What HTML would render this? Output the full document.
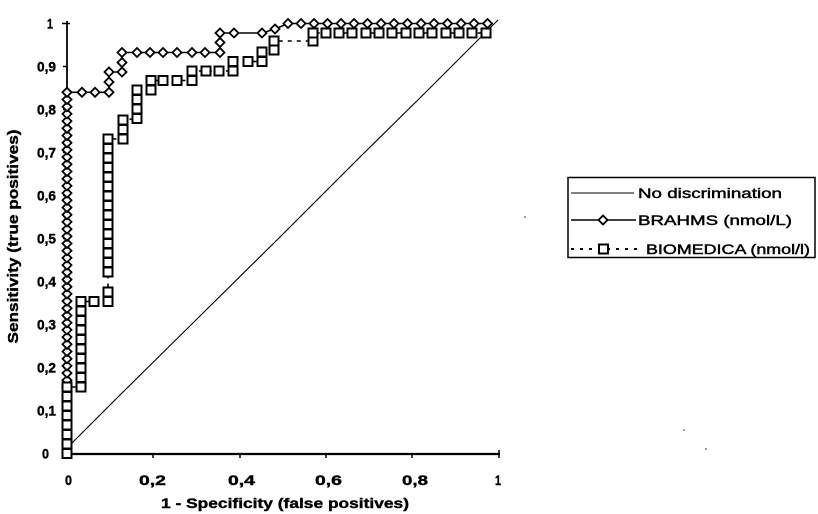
<!DOCTYPE html>
<html><head><meta charset="utf-8"><style>
html,body{margin:0;padding:0;background:#fff;}
svg{display:block;}
text{font-family:"Liberation Sans",Arial,sans-serif;fill:#000;}
</style></head><body>
<svg width="818" height="514" viewBox="0 0 818 514" xmlns="http://www.w3.org/2000/svg">
<defs>
<marker id="dm" markerUnits="userSpaceOnUse" markerWidth="16" markerHeight="16" refX="8" refY="8" overflow="visible">
<path d="M8,3.5 L12.5,8 L8,12.5 L3.5,8 Z" fill="#fff" stroke="#000" stroke-width="1.8" stroke-dasharray="none"/>
</marker>
<marker id="sq" markerUnits="userSpaceOnUse" markerWidth="16" markerHeight="16" refX="8" refY="8" overflow="visible">
<rect x="3.5" y="3.5" width="9" height="9" fill="#fff" stroke="#000" stroke-width="2" stroke-dasharray="none"/>
</marker>
</defs>
<rect width="818" height="514" fill="#fff"/>

<!-- axes -->
<line x1="67" y1="21" x2="67" y2="455" stroke="#000" stroke-width="1.8"/>
<line x1="66" y1="454" x2="500" y2="454" stroke="#000" stroke-width="2.2"/>
<g stroke="#000" stroke-width="1.5">
<line x1="62" y1="23.5" x2="70" y2="23.5"/>
<line x1="63" y1="66.5" x2="67" y2="66.5"/>
<line x1="63" y1="109.5" x2="67" y2="109.5"/>
<line x1="63" y1="152.5" x2="67" y2="152.5"/>
<line x1="63" y1="195.5" x2="67" y2="195.5"/>
<line x1="63" y1="238.5" x2="67" y2="238.5"/>
<line x1="63" y1="281.5" x2="67" y2="281.5"/>
<line x1="63" y1="324.5" x2="67" y2="324.5"/>
<line x1="63" y1="367.5" x2="67" y2="367.5"/>
<line x1="63" y1="410.5" x2="67" y2="410.5"/>
<line x1="153" y1="454" x2="153" y2="458"/>
<line x1="240" y1="454" x2="240" y2="458"/>
<line x1="326" y1="454" x2="326" y2="458"/>
<line x1="412" y1="454" x2="412" y2="458"/>
<line x1="499" y1="450" x2="499" y2="458"/>
</g>

<!-- y tick labels -->
<g font-size="13.5" font-weight="bold" stroke="#000" stroke-width="0.4">
<text x="47" y="28.5" textLength="6" lengthAdjust="spacingAndGlyphs">1</text>
<text x="37" y="71.5" textLength="19" lengthAdjust="spacingAndGlyphs">0,9</text>
<text x="37" y="114.5" textLength="19" lengthAdjust="spacingAndGlyphs">0,8</text>
<text x="37" y="157.5" textLength="19" lengthAdjust="spacingAndGlyphs">0,7</text>
<text x="37" y="200.5" textLength="19" lengthAdjust="spacingAndGlyphs">0,6</text>
<text x="37" y="243.5" textLength="19" lengthAdjust="spacingAndGlyphs">0,5</text>
<text x="37" y="286.5" textLength="19" lengthAdjust="spacingAndGlyphs">0,4</text>
<text x="37" y="329.5" textLength="19" lengthAdjust="spacingAndGlyphs">0,3</text>
<text x="37" y="372.5" textLength="19" lengthAdjust="spacingAndGlyphs">0,2</text>
<text x="37" y="415.5" textLength="19" lengthAdjust="spacingAndGlyphs">0,1</text>
<text x="42" y="458.5" textLength="7" lengthAdjust="spacingAndGlyphs">0</text>
</g>

<!-- x tick labels -->
<g font-size="13.5" font-weight="bold" stroke="#000" stroke-width="0.4">
<text x="65" y="485" textLength="7" lengthAdjust="spacingAndGlyphs">0</text>
<text x="139" y="485" textLength="27" lengthAdjust="spacingAndGlyphs">0,2</text>
<text x="228" y="485" textLength="27" lengthAdjust="spacingAndGlyphs">0,4</text>
<text x="315" y="485" textLength="27" lengthAdjust="spacingAndGlyphs">0,6</text>
<text x="402" y="485" textLength="26" lengthAdjust="spacingAndGlyphs">0,8</text>
<text x="495" y="485" textLength="6" lengthAdjust="spacingAndGlyphs">1</text>
</g>

<!-- axis titles -->
<text x="161" y="508" font-size="14" font-weight="bold" stroke="#000" stroke-width="0.4" textLength="248" lengthAdjust="spacingAndGlyphs">1 - Specificity (false positives)</text>
<text transform="translate(18,236.5) rotate(-90)" x="0" y="0" text-anchor="middle" font-size="15" font-weight="bold" stroke="#000" stroke-width="0.4" textLength="214" lengthAdjust="spacingAndGlyphs">Sensitivity (true positives)</text>

<!-- no discrimination -->
<polyline points="68,447 120,395 200,316 280,237 360,157 430,88 498,20" fill="none" stroke="#000" stroke-width="1.1"/>

<!-- BRAHMS -->
<polyline fill="none" stroke="#000" stroke-width="1.6" marker-start="url(#dm)" marker-mid="url(#dm)" marker-end="url(#dm)"
points="67,380.3 67,373.1 67,365.9 67,358.7 67,351.5 67,344.3 67,337.1 67,329.9 67,322.7 67,315.5 67,308.3 67,301.1 67,293.9 67,286.7 67,279.5 67,272.3 67,265.1 67,257.9 67,250.7 67,243.5 67,236.3 67,229.1 67,221.9 67,214.7 67,207.5 67,200.3 67,193.1 67,185.9 67,178.7 67,171.5 67,164.3 67,157.1 67,149.9 67,142.7 67,135.5 67,128.3 67,121.1 67,113.9 67,106.7 67,99.5 67,92.3 82,92.3 95,92.3 109,92.3 109,82 109,72 122,72 122,62.5 122,52.5 137,52.5 150,52.5 163,52.5 177,52.5 192,52.5 205,52.5 220,52.5 220,42.5 220,33 234,33 262,33 275,29 288,23.5 301,23.5 314,23.5 327.5,23.5 341,23.5 354,23.5 367.5,23.5 381,23.5 394,23.5 407.5,23.5 421,23.5 434,23.5 447.5,23.5 461,23.5 474,23.5 487.5,23.5"/>

<!-- BIOMEDICA -->
<polyline fill="none" stroke="#000" stroke-width="1.6" stroke-dasharray="4,5" marker-start="url(#sq)" marker-mid="url(#sq)" marker-end="url(#sq)"
points="67,453.5 67,444 67,434.5 67,425 67,415.5 67,406 67,396.5 67,387 81,387 81,377.5 81,368 81,358.5 81,349 81,339.5 81,330 81,320.5 81,311 81,301.5 94,301.5 108,301.5 108,292 108,272 108,262.5 108,253 108,243.5 108,234 108,224.5 108,215 108,205.5 108,196 108,186.5 108,177 108,167.5 108,158 108,148.5 108,139 123,139 123,129.5 123,120 137,118.5 137,109 137,99.5 137,90 151,90 151,80.5 163,80.5 177,80.5 192,80.5 192,71 206,71 219,71 233,71 233,61.5 248,61.5 262,61.5 262,52 274,50 274,41 313,41 313,33 326,33 339,33 352,33 366,33 379,33 392,33 406,33 419,33 432,33 446,33 459,33 472,33 486,33"/>

<!-- legend -->
<rect x="568" y="177.5" width="247" height="80" fill="#fff" stroke="#000" stroke-width="1.5"/>
<line x1="571" y1="193" x2="634" y2="193" stroke="#000" stroke-width="1.1"/>
<text x="638" y="198" font-size="14" textLength="144" lengthAdjust="spacingAndGlyphs" stroke="#000" stroke-width="0.45">No discrimination</text>
<line x1="571" y1="220" x2="636" y2="220" stroke="#000" stroke-width="1.6"/>
<path d="M603,215.5 L607.5,220 L603,224.5 L598.5,220 Z" fill="#fff" stroke="#000" stroke-width="1.8"/>
<text x="638" y="225" font-size="14" textLength="154" lengthAdjust="spacingAndGlyphs" stroke="#000" stroke-width="0.45">BRAHMS (nmol/L)</text>
<line x1="571" y1="249" x2="643" y2="249" stroke="#000" stroke-width="2" stroke-dasharray="3,6"/>
<rect x="599" y="244.5" width="9" height="9" fill="#fff" stroke="#000" stroke-width="2"/>
<text x="646" y="254" font-size="14" textLength="164" lengthAdjust="spacingAndGlyphs" stroke="#000" stroke-width="0.45">BIOMEDICA (nmol/l)</text>

<!-- specks -->
<circle cx="525" cy="217" r="0.9" fill="#555"/>
<circle cx="684" cy="430" r="0.9" fill="#555"/>
<circle cx="706" cy="449" r="0.9" fill="#555"/>
</svg>
</body></html>
